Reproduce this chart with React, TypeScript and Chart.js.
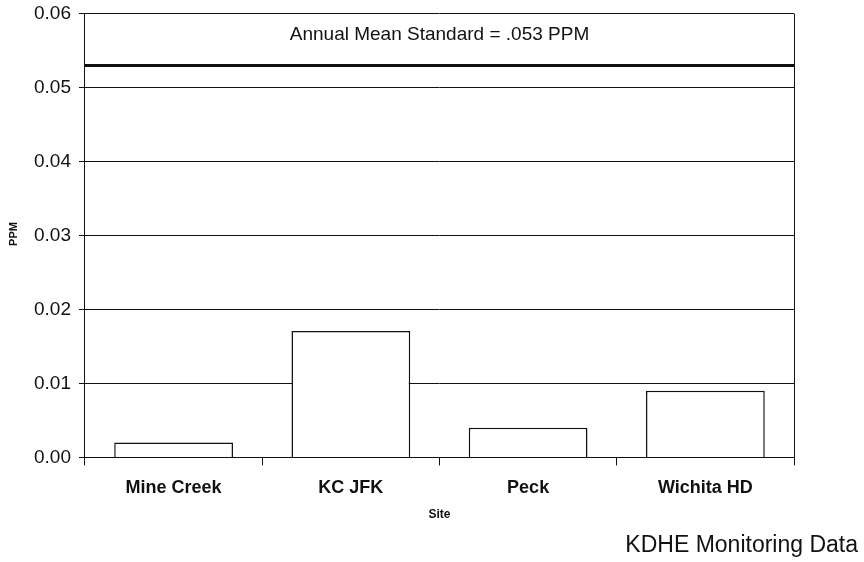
import React, { useEffect, useRef } from "react";
import { Chart, registerables } from "chart.js";

Chart.register(...registerables);

const sites = ["Mine Creek", "KC JFK", "Peck", "Wichita HD"];
const ppmValues = [0.002, 0.0171, 0.004, 0.009];
const standardValue = [0.053];
const standardLabel = ["Annual Mean Standard = .053 PPM"];
const yTicks = [0, 0.01, 0.02, 0.03, 0.04, 0.05, 0.06];
const footerText = ["KDHE Monitoring Data"];
const xTitle = ["Site"];
const yTitle = ["PPM"];

const FONT = "'Liberation Sans', Arial, sans-serif";

const overlayPlugin = {
  id: "overlay",
  afterDatasetsDraw(chart: any) {
    const { ctx, chartArea, scales } = chart;
    const y = scales.y.getPixelForValue(standardValue[0]);
    const cx = (chartArea.left + chartArea.right) / 2;
    ctx.save();
    ctx.strokeStyle = "#111";
    ctx.lineWidth = 1;
    ctx.beginPath();
    ctx.moveTo(chartArea.right + 0.5, chartArea.top);
    ctx.lineTo(chartArea.right + 0.5, chartArea.bottom);
    ctx.stroke();
    ctx.lineWidth = 3;
    ctx.beginPath();
    ctx.moveTo(chartArea.left, y);
    ctx.lineTo(chartArea.right, y);
    ctx.stroke();
    ctx.fillStyle = "#111";
    ctx.font = `19px ${FONT}`;
    ctx.textAlign = "center";
    ctx.textBaseline = "middle";
    const ly = scales.y.getPixelForValue(0.0571);
    ctx.fillText(standardLabel[0], cx, ly);
    // axis titles
    ctx.font = `bold 12px ${FONT}`;
    ctx.fillText(xTitle[0], cx, 515);
    ctx.save();
    ctx.translate(14, 234);
    ctx.rotate(-Math.PI / 2);
    ctx.font = `bold 11px ${FONT}`;
    ctx.fillText(yTitle[0], 0, 0);
    ctx.restore();
    // footer
    ctx.font = `23px ${FONT}`;
    ctx.textAlign = "right";
    ctx.fillText(footerText[0], 858, 546);
    ctx.restore();
  },
};

export default function App() {
  const ref = useRef<HTMLCanvasElement>(null);
  useEffect(() => {
    if (!ref.current) return;
    const chart = new Chart(ref.current, {
      type: "bar",
      data: {
        labels: sites,
        datasets: [
          {
            data: ppmValues,
            backgroundColor: "#ffffff",
            borderColor: "#111",
            borderWidth: 1.5,
            categoryPercentage: 0.67,
            barPercentage: 1,
          },
        ],
      },
      options: {
        animation: false,
        responsive: false,
        maintainAspectRatio: false,
        layout: { padding: { left: 26, right: 70, top: 0, bottom: 51 } },
        plugins: {
          legend: { display: false },
          tooltip: { enabled: false },
        },
        scales: {
          x: {
            offset: true,
            grid: {
              offset: true,
              drawOnChartArea: false,
              drawTicks: true,
              tickLength: 8,
              color: "#111",
            },
            border: { color: "#111", width: 1 },
            ticks: {
              color: "#111",
              font: { family: FONT, size: 18, weight: "bold", lineHeight: 1.2 },
              padding: 12,
            },
          },
          y: {
            min: 0,
            max: 0.06,
            afterBuildTicks: (axis: any) => {
              axis.ticks = yTicks.map((v) => ({ value: v }));
            },
            grid: { color: "#111", lineWidth: 1, tickLength: 6 },
            border: { color: "#111", width: 1 },
            ticks: {
              color: "#111",
              font: { family: FONT, size: 19, lineHeight: 0.6 },
              padding: 8,
              callback: (v: any) => Number(v).toFixed(2),
            },
          },
        },
      },
      plugins: [overlayPlugin],
    });
    return () => chart.destroy();
  }, []);
  return (
    <div style={{ position: "fixed", left: 0, top: 0, width: 864, height: 562, background: "#fff" }}>
      <canvas ref={ref} width={864} height={562} />
    </div>
  );
}
